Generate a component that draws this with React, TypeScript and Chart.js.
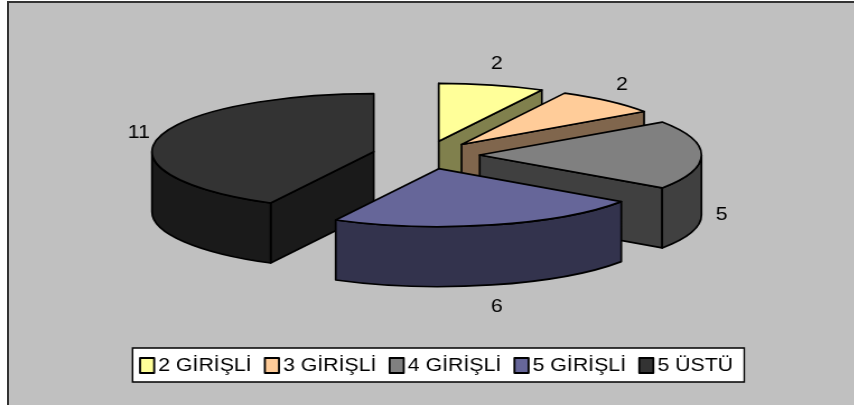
import React, { useEffect, useRef } from "react";
import { Chart, registerables } from "chart.js";

Chart.register(...registerables);

const categories = ["2 GİRİŞLİ", "3 GİRİŞLİ", "4 GİRİŞLİ", "5 GİRİŞLİ", "5 ÜSTÜ"];
const values = [2, 2, 5, 6, 11];
const topColors = ["#FFFF99", "#FFCC99", "#808080", "#666699", "#333333"];

// The reference is a horizontally stretched bitmap: the canvas is drawn narrow and stretched by CSS.
const STRETCH = 1.12;
const CANVAS_W = 755;
const CANVAS_H = 402;
const RADIUS = 198;
const EXPLODE = 48;
const TILT = 58 / 198;
const DEPTH = 60;
const PIE_DX = -9.5;
const PIE_CY = 152;
const LABEL_RX = 216;
const LABEL_RY = 80;
const FONT = '"Liberation Sans", Arial, sans-serif';
const FONT_SIZE = 19;
const STROKE = 1.7;

function darker(hex: string) {
  const n = parseInt(hex.slice(1), 16);
  const c = [(n >> 16) & 255, (n >> 8) & 255, n & 255].map((v) => Math.round(v / 2));
  return `rgb(${c[0]},${c[1]},${c[2]})`;
}

const pie3d = {
  id: "pie3d",
  beforeDraw(chart: any) {
    const boxes = chart.legend?.legendHitBoxes;
    if (!boxes?.length) return;
    const ctx = chart.ctx;
    const first = boxes[0];
    const last = boxes[boxes.length - 1];
    const cy = first.top + first.height / 2;
    ctx.save();
    ctx.fillStyle = "#fff";
    ctx.strokeStyle = "#000";
    ctx.lineWidth = 1.4;
    const l = first.left - 6.7;
    const r = last.left + last.width + 10;
    ctx.beginPath();
    ctx.rect(l, cy - 17.5, r - l, 34);
    ctx.fill();
    ctx.stroke();
    ctx.restore();
  },
  beforeDatasetsDraw(chart: any) {
    const ctx = chart.ctx;
    const arcs = chart.getDatasetMeta(0).data;
    const items = arcs.map((arc: any, i: number) => {
      const s = arc.startAngle;
      const e = arc.endAngle;
      const mid = (s + e) / 2;
      const off = arc.options.offset;
      const ax = arc.x + PIE_DX + off * Math.cos(mid);
      const ay = PIE_CY + off * Math.sin(mid) * TILT;
      return { i, s, e, mid, ax, ay, R: arc.outerRadius };
    });
    ctx.save();
    ctx.lineJoin = "round";
    ctx.lineWidth = STROKE;
    ctx.strokeStyle = "#000";
    const order = [...items].sort((p: any, q: any) => p.ay - q.ay);
    for (const it of order) {
      const { i, s, e, ax, ay, R } = it;
      const ry = R * TILT;
      ctx.fillStyle = darker(topColors[i]);
      const wall = (t: number) => {
        const x = ax + R * Math.cos(t);
        const y = ay + ry * Math.sin(t);
        ctx.beginPath();
        ctx.moveTo(ax, ay);
        ctx.lineTo(x, y);
        ctx.lineTo(x, y + DEPTH);
        ctx.lineTo(ax, ay + DEPTH);
        ctx.closePath();
        ctx.fill();
        ctx.stroke();
      };
      if (Math.cos(s) < 1e-6) wall(s);
      if (Math.cos(e) > 1e-6) wall(e);
      const a = Math.max(s, 0);
      const b = Math.min(e, Math.PI);
      if (b > a) {
        ctx.beginPath();
        ctx.ellipse(ax, ay, R, ry, 0, a, b);
        ctx.ellipse(ax, ay + DEPTH, R, ry, 0, b, a, true);
        ctx.closePath();
        ctx.fill();
        ctx.stroke();
      }
      ctx.fillStyle = topColors[i];
      ctx.beginPath();
      ctx.moveTo(ax, ay);
      ctx.ellipse(ax, ay, R, ry, 0, s, e);
      ctx.closePath();
      ctx.fill();
      ctx.stroke();
    }
    ctx.fillStyle = "#000";
    ctx.font = `${FONT_SIZE}px ${FONT}`;
    ctx.textAlign = "center";
    ctx.textBaseline = "middle";
    for (const it of items) {
      const sin = Math.sin(it.mid);
      const lx = it.ax + Math.cos(it.mid) * LABEL_RX;
      const ly = it.ay + sin * LABEL_RY + (sin > -0.01 ? DEPTH : 0);
      ctx.fillText(String(values[it.i]), lx, ly);
    }
    // legend swatches, placed right before each legend text
    const boxes = chart.legend?.legendHitBoxes ?? [];
    boxes.forEach((h: any, i: number) => {
      const cy = h.top + h.height / 2;
      ctx.fillStyle = topColors[i];
      ctx.lineWidth = 1.8;
      ctx.beginPath();
      ctx.rect(h.left, cy - 7.5, 12.6, 15);
      ctx.fill();
      ctx.stroke();
    });
    ctx.restore();
    return false;
  },
};

export default function App() {
  const ref = useRef<HTMLCanvasElement>(null);
  useEffect(() => {
    const chart = new Chart(ref.current as HTMLCanvasElement, {
      type: "pie",
      data: {
        labels: categories,
        datasets: [
          {
            data: values,
            backgroundColor: topColors,
            borderColor: "#000",
            borderWidth: 0,
            offset: EXPLODE,
          },
        ],
      },
      options: {
        responsive: false,
        animation: false,
        radius: RADIUS,
        layout: { padding: { left: 8.5, right: 0, top: 0, bottom: 20 } },
        plugins: {
          tooltip: { enabled: false },
          legend: {
            position: "bottom",
            labels: {
              boxWidth: 6.7,
              boxHeight: 14,
              padding: 11.8,
              color: "#000",
              font: { family: FONT, size: FONT_SIZE },
              generateLabels(c: any) {
                return (Chart as any).overrides.pie.plugins.legend.labels
                  .generateLabels(c)
                  .map((l: any) => ({ ...l, fillStyle: "rgba(0,0,0,0)", strokeStyle: "rgba(0,0,0,0)", lineWidth: 0 }));
              },
            },
          },
        },
      } as any,
      plugins: [pie3d as any],
    });
    return () => chart.destroy();
  }, []);
  return (
    <div
      style={{
        position: "absolute",
        left: 7,
        top: 1,
        width: 847,
        height: 404,
        boxSizing: "border-box",
        borderLeft: "2px solid #333",
        borderTop: "2px solid #333",
        background: "#C0C0C0",
        overflow: "hidden",
      }}
    >
      <canvas
        ref={ref}
        width={CANVAS_W}
        height={CANVAS_H}
        style={{
          display: "block",
          transform: `scaleX(${STRETCH})`,
          transformOrigin: "0 0",
        }}
      />
    </div>
  );
}
